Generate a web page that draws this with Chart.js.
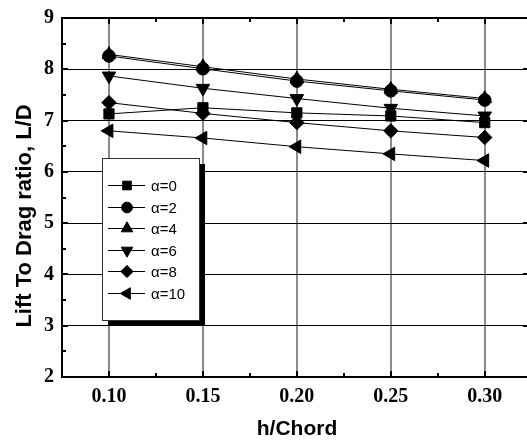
<!DOCTYPE html>
<html><head><meta charset="utf-8">
<script src="https://cdn.jsdelivr.net/npm/chart.js@4/dist/chart.umd.min.js"></script>
<style>html,body{margin:0;padding:0;background:#fff;overflow:hidden}canvas{display:block}</style>
</head><body><canvas id="c" width="527" height="444"></canvas>
<script>
// ---- data ----
const xValues = [0.10, 0.15, 0.20, 0.25, 0.30];
const seriesLabels = ['α=0', 'α=2', 'α=4', 'α=6', 'α=8', 'α=10'];
const alpha0  = [7.13, 7.25, 7.15, 7.09, 6.96];
const alpha2  = [8.26, 8.01, 7.77, 7.58, 7.40];
const alpha4  = [8.29, 8.05, 7.81, 7.61, 7.43];
const alpha6  = [7.87, 7.63, 7.43, 7.24, 7.09];
const alpha8  = [7.35, 7.14, 6.96, 6.80, 6.67];
const alpha10 = [6.80, 6.66, 6.49, 6.35, 6.22];
const xTicks = [0.10, 0.15, 0.20, 0.25, 0.30];
const xMinorTicks = [0.125, 0.175, 0.225, 0.275];
const yTicks = [2, 3, 4, 5, 6, 7, 8, 9];
const yMinorTicks = [2.5, 3.5, 4.5, 5.5, 6.5, 7.5, 8.5];
const xTitle = 'h/Chord';
const yTitle = 'Lift To Drag ratio, L/D';

// ---- styles ----
const markerStyles = [
  {pointStyle: 'rect', rotation: 0, radius: 7.2},
  {pointStyle: 'circle', rotation: 0, radius: 6.3},
  {pointStyle: 'triangle', rotation: 0, radius: 7.8},
  {pointStyle: 'triangle', rotation: 180, radius: 7.8},
  {pointStyle: 'rectRot', rotation: 0, radius: 7.2},
  {pointStyle: 'triangle', rotation: -90, radius: 7.8}
];
const seriesValues = [alpha0, alpha2, alpha4, alpha6, alpha8, alpha10];

const datasets = seriesValues.map((vals, i) => ({
  label: seriesLabels[i],
  data: vals.map((v, j) => ({x: xValues[j], y: v})),
  borderColor: '#000',
  backgroundColor: '#000',
  borderWidth: 1,
  pointStyle: markerStyles[i].pointStyle,
  pointRotation: markerStyles[i].rotation,
  pointRadius: markerStyles[i].radius,
  pointBorderWidth: 1,
  pointBorderColor: '#000',
  pointBackgroundColor: '#000',
  tension: 0
}));

const serifBold = {family: "'Liberation Serif', 'Times New Roman', serif", weight: 'bold', size: 20};

const stretchPlugin = {
  id: 'stretch',
  afterLayout(chart) {
    const xs = chart.scales.x;
    const ca = chart.chartArea;
    ca.right = chart.width;
    ca.width = ca.right - ca.left;
    xs.right = chart.width;
    xs.width = xs.right - xs.left;
    xs.configure();
  }
};

const decorPlugin = {
  id: 'decor',
  afterDraw(chart) {
    const ctx = chart.ctx;
    const ca = chart.chartArea;
    const xs = chart.scales.x, ys = chart.scales.y;
    ctx.save();
    // top frame
    ctx.strokeStyle = '#000';
    ctx.lineWidth = 2;
    ctx.beginPath(); ctx.moveTo(ca.left - 1, ca.top); ctx.lineTo(ca.right, ca.top); ctx.stroke();
    // ticks
    const tick = (x1, y1, x2, y2) => { ctx.beginPath(); ctx.moveTo(x1, y1); ctx.lineTo(x2, y2); ctx.stroke(); };
    xTicks.forEach(v => { const p = Math.round(xs.getPixelForValue(v)); tick(p, ca.top, p, ca.top + 6); tick(p, ca.bottom, p, ca.bottom - 6); });
    xMinorTicks.forEach(v => { const p = Math.round(xs.getPixelForValue(v)); tick(p, ca.top, p, ca.top + 4); tick(p, ca.bottom, p, ca.bottom - 4); });
    yTicks.forEach(v => { const p = Math.round(ys.getPixelForValue(v)); tick(ca.left, p, ca.left + 6, p); tick(ca.right, p, ca.right - 4, p); });
    yMinorTicks.forEach(v => { const p = Math.round(ys.getPixelForValue(v)); tick(ca.left, p, ca.left + 4, p); });

    // legend box with shadow
    const bx = 102, by = 158, bw = 97, bh = 162;
    ctx.fillStyle = '#000';
    ctx.fillRect(bx + 6, by + 6, bw, bh);
    ctx.fillStyle = '#fff';
    ctx.fillRect(bx, by, bw, bh);
    ctx.lineWidth = 1;
    ctx.strokeStyle = '#333';
    ctx.strokeRect(bx + 0.5, by + 0.5, bw, bh);
    ctx.font = "15px 'Liberation Sans', Arial, sans-serif";
    ctx.textBaseline = 'middle';
    ctx.textAlign = 'left';
    seriesLabels.forEach((lab, i) => {
      const y = Math.round(by + 27 + i * 21.6) + 0.5;
      ctx.strokeStyle = '#000';
      ctx.lineWidth = 1;
      ctx.beginPath(); ctx.moveTo(108, y); ctx.lineTo(145, y); ctx.stroke();
      ctx.fillStyle = '#000';
      Chart.helpers.drawPoint(ctx, {
        pointStyle: markerStyles[i].pointStyle,
        rotation: markerStyles[i].rotation,
        radius: markerStyles[i].radius * 0.85,
        borderWidth: 1
      }, 127, y);
      ctx.fillStyle = '#000';
      ctx.fillText(lab, 151, y + 1);
    });

    // axis titles
    ctx.fillStyle = '#000';
    ctx.font = "bold 21px 'Liberation Sans', Arial, sans-serif";
    ctx.textAlign = 'center';
    ctx.textBaseline = 'alphabetic';
    ctx.fillText(xTitle, 297, 435);
    ctx.save();
    ctx.translate(31, 216);
    ctx.rotate(-Math.PI / 2);
    ctx.font = "bold 22px 'Liberation Sans', Arial, sans-serif";
    ctx.fillText(yTitle, 0, 0);
    ctx.restore();
    ctx.restore();
  }
};

new Chart(document.getElementById('c'), {
  type: 'line',
  data: {datasets},
  options: {
    animation: false,
    responsive: false,
    devicePixelRatio: 1,
    layout: {padding: {top: 18, right: 0, left: 0, bottom: 0}},
    plugins: {legend: {display: false}, tooltip: {enabled: false}},
    scales: {
      x: {
        type: 'linear', min: 0.075, max: 0.3225,
        afterBuildTicks: s => { s.ticks = xTicks.map(v => ({value: v})); },
        afterFit: s => { s.height = 67; s.paddingLeft = 0; s.paddingRight = 0; },
        ticks: {callback: v => Number(v).toFixed(2), font: serifBold, color: '#000', padding: 8, maxRotation: 0, autoSkip: false},
        grid: {color: '#8a8a8a', lineWidth: 2, drawTicks: false},
        border: {display: true, color: '#000', width: 2}
      },
      y: {
        type: 'linear', min: 2, max: 9,
        afterBuildTicks: s => { s.ticks = yTicks.map(v => ({value: v})); },
        afterFit: s => { s.width = 62; s.paddingTop = 0; s.paddingBottom = 0; },
        ticks: {callback: v => String(v), font: serifBold, color: '#000', padding: 8, autoSkip: false},
        grid: {color: '#000', lineWidth: 1, drawTicks: false},
        border: {display: true, color: '#000', width: 2}
      }
    }
  },
  plugins: [stretchPlugin, decorPlugin]
});
</script>
</body></html>
